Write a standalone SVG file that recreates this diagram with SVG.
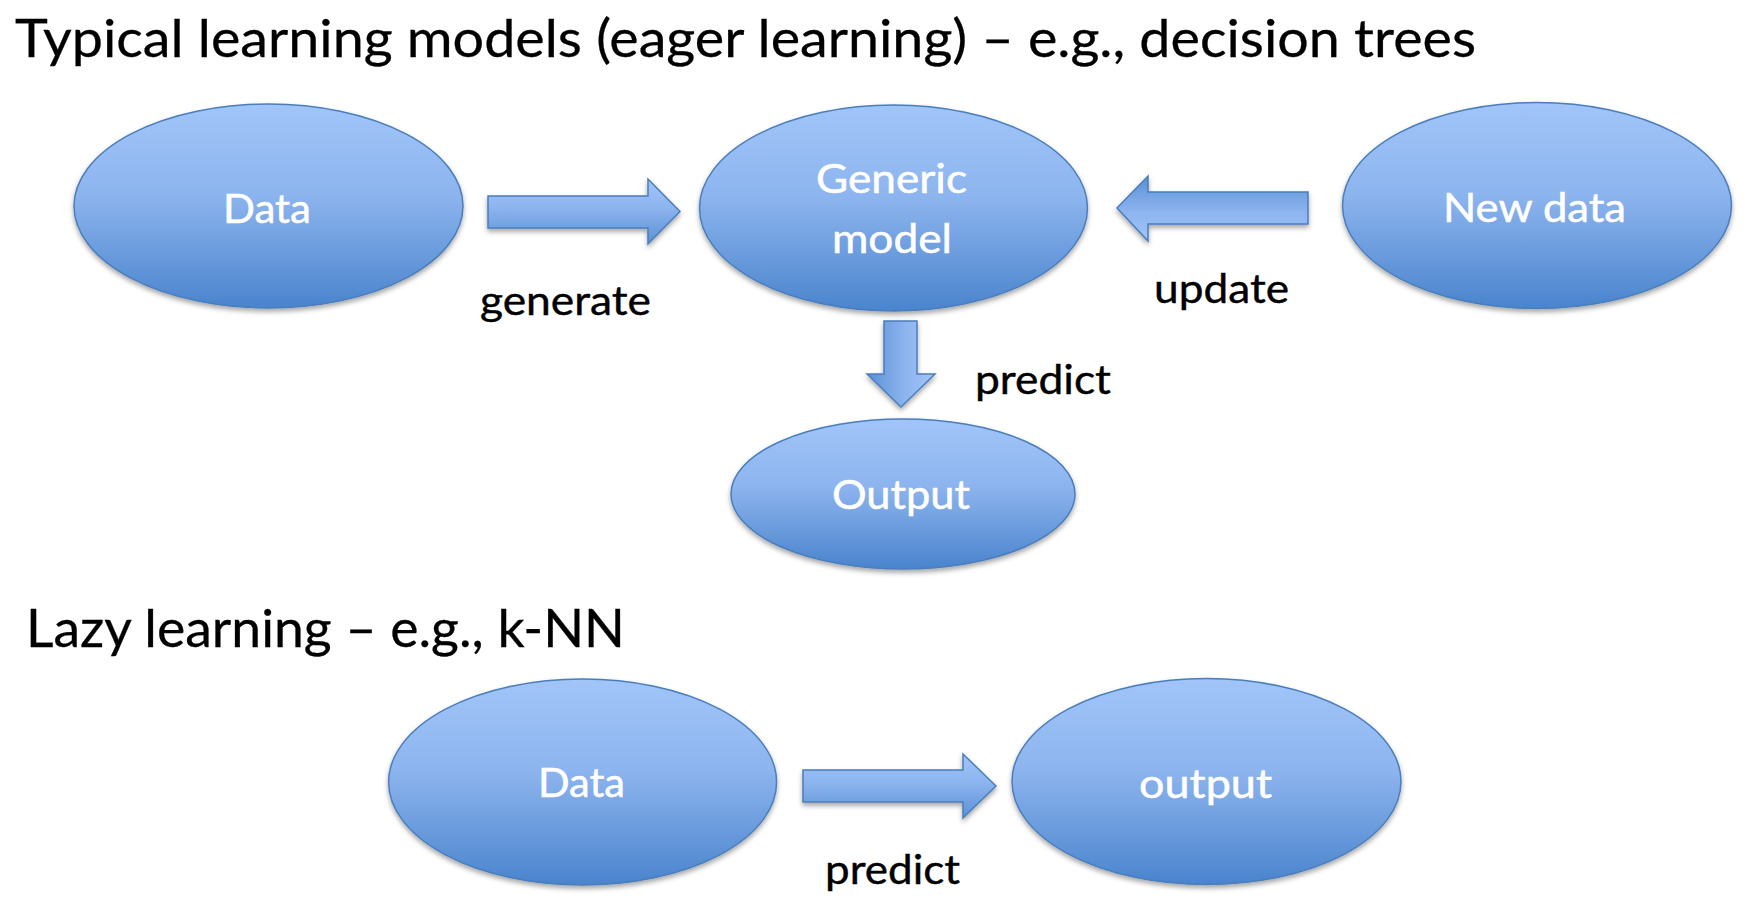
<svg xmlns="http://www.w3.org/2000/svg" width="1760" height="920" viewBox="0 0 1760 920">
  <defs>
    <linearGradient id="gV" x1="0" y1="0" x2="0" y2="1">
      <stop offset="0" stop-color="#a1c5f9"/>
      <stop offset="0.45" stop-color="#8cb4ee"/>
      <stop offset="1" stop-color="#4a84cd"/>
    </linearGradient>
    <linearGradient id="gArrowR" x1="0" y1="0" x2="0" y2="1">
      <stop offset="0" stop-color="#a1c5f9"/>
      <stop offset="0.45" stop-color="#8cb4ee"/>
      <stop offset="1" stop-color="#5a90d6"/>
    </linearGradient>
    <linearGradient id="gArrowL" x1="0" y1="1" x2="0" y2="0">
      <stop offset="0" stop-color="#a1c5f9"/>
      <stop offset="0.45" stop-color="#8cb4ee"/>
      <stop offset="1" stop-color="#5a90d6"/>
    </linearGradient>
    <linearGradient id="gArrowD" x1="1" y1="0" x2="0" y2="0">
      <stop offset="0" stop-color="#a1c5f9"/>
      <stop offset="0.45" stop-color="#8cb4ee"/>
      <stop offset="1" stop-color="#5a90d6"/>
    </linearGradient>
    <filter id="shadow" x="-10%" y="-10%" width="120%" height="130%">
      <feDropShadow dx="0" dy="3" stdDeviation="2.5" flood-color="#000" flood-opacity="0.35"/>
    </filter>
  </defs>
  <style>
    .node { fill: url(#gV); stroke: #4a7ebb; stroke-width: 1.5; filter: url(#shadow); }
    .arrowR { fill: url(#gArrowR); stroke: #4a7ebb; stroke-width: 1.5; filter: url(#shadow); }
    .arrowL { fill: url(#gArrowL); stroke: #4a7ebb; stroke-width: 1.5; filter: url(#shadow); }
    .arrowD { fill: url(#gArrowD); stroke: #4a7ebb; stroke-width: 1.5; filter: url(#shadow); }
    .ntext { font-family: Lato, "Liberation Sans", sans-serif; font-size: 40px; fill: #ffffff; stroke: #ffffff; stroke-width: 0.5; }
    .label { font-family: Lato, "Liberation Sans", sans-serif; font-size: 40px; fill: #000000; stroke: #000000; stroke-width: 0.4; }
    .title { font-family: Lato, "Liberation Sans", sans-serif; font-size: 52px; fill: #000000; stroke: #000000; stroke-width: 0.3; }
  </style>
  <rect width="1760" height="920" fill="#ffffff"/>

  <g id="titles">
    <text class="title" x="15" y="57" textLength="1461" lengthAdjust="spacingAndGlyphs">Typical learning models (eager learning) – e.g., decision trees</text>
    <text class="title" x="26" y="647" textLength="599" lengthAdjust="spacingAndGlyphs">Lazy learning – e.g., k-NN</text>
  </g>

  <g id="connectors">
    <path class="arrowR" d="M488,196 H648 V179 L680,211.5 L648,244 V228 H488 Z"/>
    <text class="label" x="480" y="315" textLength="171" lengthAdjust="spacingAndGlyphs">generate</text>
    <path class="arrowL" d="M1308,192 H1148 V176 L1117,208 L1148,241 V224 H1308 Z"/>
    <text class="label" x="1154" y="303" textLength="135" lengthAdjust="spacingAndGlyphs">update</text>
    <path class="arrowD" d="M884,321 H917 V374 H935 L901,407 L867,374 H884 Z"/>
    <text class="label" x="975" y="394" textLength="136" lengthAdjust="spacingAndGlyphs">predict</text>
    <path class="arrowR" d="M803,770 H963 V754 L996,786 L963,818 V802 H803 Z"/>
    <text class="label" x="825" y="884" textLength="135" lengthAdjust="spacingAndGlyphs">predict</text>
  </g>

  <g id="node-data">
    <ellipse class="node" cx="268.5" cy="206" rx="194.5" ry="102"/>
    <text class="ntext" x="223" y="223" textLength="88" lengthAdjust="spacingAndGlyphs">Data</text>
  </g>
  <g id="node-generic-model">
    <ellipse class="node" cx="893.5" cy="208" rx="194" ry="103"/>
    <text class="ntext" x="816" y="193" textLength="151" lengthAdjust="spacingAndGlyphs">Generic</text>
    <text class="ntext" x="832" y="253" textLength="120" lengthAdjust="spacingAndGlyphs">model</text>
  </g>
  <g id="node-new-data">
    <ellipse class="node" cx="1537" cy="205.5" rx="194.5" ry="103"/>
    <text class="ntext" x="1443" y="222" textLength="183" lengthAdjust="spacingAndGlyphs">New data</text>
  </g>
  <g id="node-output">
    <ellipse class="node" cx="903" cy="494" rx="172" ry="75"/>
    <text class="ntext" x="832" y="509" textLength="138" lengthAdjust="spacingAndGlyphs">Output</text>
  </g>
  <g id="node-lazy-data">
    <ellipse class="node" cx="582.6" cy="782" rx="194" ry="103"/>
    <text class="ntext" x="538" y="797" textLength="87" lengthAdjust="spacingAndGlyphs">Data</text>
  </g>
  <g id="node-lazy-output">
    <ellipse class="node" cx="1206.5" cy="781.5" rx="194.5" ry="103"/>
    <text class="ntext" x="1139" y="798" textLength="133" lengthAdjust="spacingAndGlyphs">output</text>
  </g>
</svg>
